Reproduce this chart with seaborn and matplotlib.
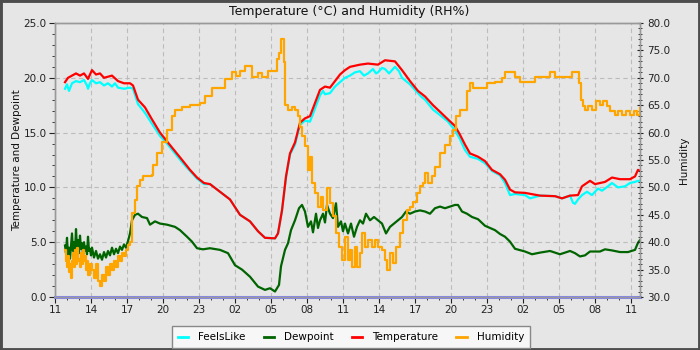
import matplotlib
matplotlib.use("Agg")
import matplotlib.pyplot as plt
import seaborn as sns
import pandas as pd
import numpy as np
from matplotlib.lines import Line2D
from matplotlib.patches import Rectangle
from matplotlib.ticker import MultipleLocator

# ---------------- data (minutes since 11:00 on day 1) ----------------
tick_labels = ["11", "14", "17", "20", "23", "02", "05", "08", "11",
               "14", "17", "20", "23", "02", "05", "08", "11"]

temp_min = [50, 65, 85, 105, 125, 145, 165, 185, 205, 225, 245, 265, 285, 315, 345, 375, 390,
            415, 450, 485, 525, 560, 600, 640, 675, 710, 745, 775, 825, 875, 925, 975, 1015,
            1050, 1100, 1115, 1135, 1155, 1175, 1200, 1225, 1250, 1275, 1300, 1325, 1350, 1375,
            1400, 1425, 1450, 1475, 1525, 1565, 1615, 1650, 1700, 1735, 1775, 1815, 1850, 1890,
            1925, 1965, 2000, 2025, 2050, 2075, 2115, 2150, 2185, 2225, 2250, 2275, 2300, 2350,
            2425, 2500, 2535, 2575, 2615, 2635, 2675, 2700, 2750, 2785, 2825, 2875, 2900, 2915, 2925]
temp_val = [19.6, 20.0, 20.2, 20.4, 20.2, 20.4, 19.9, 20.7, 20.3, 20.4, 20.0, 20.1, 20.2, 19.7, 19.5, 19.5, 19.3,
            18.0, 17.3, 16.2, 15.0, 14.2, 13.3, 12.4, 11.6, 10.9, 10.4, 10.3, 9.6, 8.9, 7.5, 6.9, 6.0,
            5.4, 5.35, 5.8, 7.9, 11.0, 13.1, 14.1, 15.9, 16.3, 16.5, 17.7, 18.9, 19.2, 19.1,
            19.7, 20.3, 20.7, 21.0, 21.2, 21.3, 21.2, 21.6, 21.5, 20.7, 19.7, 18.8, 18.3, 17.5,
            16.9, 16.2, 15.6, 14.8, 13.9, 13.1, 12.8, 12.4, 11.6, 11.2, 10.7, 9.8, 9.55, 9.5,
            9.25, 9.2, 9.0, 9.25, 9.3, 10.1, 10.6, 10.3, 10.5, 10.9, 10.75, 10.75, 11.0, 11.6, 11.5]

feels_min = [50, 60, 70, 85, 105, 125, 145, 160, 165, 175, 185, 205, 225, 245, 265, 285, 300, 315, 345,
             375, 390, 415, 450, 485, 525, 560, 600, 640, 675, 710, 745, 775, 825, 875, 925, 975, 1015,
             1050, 1100, 1115, 1135, 1155, 1175, 1200, 1225, 1250, 1275, 1300, 1325, 1340, 1350, 1375,
             1400, 1425, 1450, 1475, 1500, 1525, 1545, 1565, 1590, 1605, 1615, 1635, 1650, 1670, 1700,
             1720, 1735, 1775, 1815, 1830, 1850, 1890, 1925, 1965, 2000, 2025, 2050, 2075, 2115, 2150,
             2185, 2225, 2250, 2275, 2300, 2350, 2375, 2425, 2500, 2535, 2575, 2590, 2600, 2615, 2635,
             2660, 2685, 2715, 2735, 2765, 2785, 2815, 2850, 2875, 2900, 2915, 2925]
feels_val = [19.0, 19.4, 18.8, 19.5, 19.7, 19.6, 19.8, 19.3, 19.0, 19.5, 19.8, 19.5, 19.6, 19.3, 19.5, 19.2, 19.5, 19.1, 19.0,
             19.1, 19.0, 17.6, 16.8, 15.8, 14.7, 14.0, 13.1, 12.2, 11.5, 10.8, 10.3, 10.3, 9.6, 8.9, 7.5, 6.9, 6.0,
             5.4, 5.35, 5.8, 7.9, 10.9, 13.0, 13.9, 15.7, 16.1, 16.0, 17.2, 18.4, 18.8, 18.5, 18.6,
             19.2, 19.6, 20.0, 20.2, 20.5, 20.6, 20.2, 20.4, 20.8, 20.4, 20.5, 20.9, 20.8, 20.4, 21.0,
             20.6, 20.0, 19.4, 18.6, 18.3, 18.0, 17.1, 16.6, 16.0, 15.2, 14.4, 13.4, 12.8, 12.6, 12.2,
             11.5, 11.1, 10.4, 9.3, 9.4, 9.3, 9.0, 9.25, 9.2, 9.0, 9.25, 8.6, 8.5, 8.9, 9.3,
             9.6, 9.3, 9.9, 9.7, 10.1, 10.4, 10.0, 10.1, 10.4, 10.5, 10.6, 10.6]

dew_min = [50, 55, 60, 65, 70, 75, 80, 85, 90, 95, 100, 105, 110, 115, 120, 125, 130, 135, 140, 145,
           150, 155, 160, 165, 170, 175, 180, 185, 195, 205, 215, 225, 235, 245, 255, 265, 275, 285,
           295, 305, 315, 325, 335, 345, 355, 365, 375, 385, 400, 415, 435, 460, 475, 500, 525, 560,
           600, 625, 660, 685, 710, 740, 775, 825, 865, 900, 935, 975, 1015, 1050, 1075, 1100, 1120,
           1130, 1150, 1165, 1180, 1200, 1220, 1235, 1250, 1265, 1280, 1290, 1305, 1315, 1325, 1340,
           1350, 1360, 1375, 1390, 1405, 1415, 1430, 1440, 1450, 1465, 1480, 1495, 1510, 1525, 1540,
           1555, 1575, 1595, 1615, 1635, 1655, 1675, 1695, 1715, 1735, 1755, 1775, 1800, 1825, 1850,
           1875, 1900, 1925, 1950, 1975, 2000, 2015, 2035, 2060, 2085, 2115, 2150, 2175, 2200, 2225,
           2250, 2275, 2300, 2350, 2385, 2425, 2475, 2525, 2575, 2600, 2625, 2650, 2675, 2725, 2750,
           2785, 2825, 2865, 2900, 2915, 2925]
dew_val = [4.7, 4.0, 5.4, 3.8, 4.5, 3.5, 4.6, 5.8, 4.2, 5.0, 4.0, 6.2, 4.3, 5.2, 4.0, 5.6, 4.4, 4.9, 3.9, 5.0,
           4.2, 4.6, 3.9, 5.5, 4.2, 4.4, 3.8, 4.5, 3.6, 4.2, 3.5, 3.9, 3.4, 4.1, 3.6, 4.2, 3.8, 4.5,
           3.9, 4.4, 4.0, 4.6, 4.3, 4.8, 4.5, 5.1, 5.8, 7.0, 7.5, 7.6, 7.3, 7.2, 6.6, 6.9, 6.7, 6.6,
           6.4, 6.1, 5.5, 5.05, 4.45, 4.35, 4.45, 4.3, 4.0, 2.9, 2.5, 1.85, 0.95, 0.65, 0.8, 0.5, 1.1,
           2.8, 4.3, 4.9, 6.1, 7.0, 8.1, 8.4, 7.8, 6.4, 6.9, 5.9, 7.6, 6.3, 7.0, 7.6,
           6.8, 8.4, 7.6, 7.2, 8.55, 6.4, 6.9, 6.0, 6.7, 5.8, 6.7, 5.5, 6.4, 7.0, 6.7,
           7.6, 7.0, 7.3, 7.0, 6.7, 5.8, 6.4, 6.7, 7.0, 7.3, 7.8, 7.6, 7.8, 7.9, 7.8,
           7.6, 8.1, 8.25, 8.1, 8.25, 8.4, 8.4, 7.8, 7.6, 7.3, 7.1, 6.5, 6.3, 6.1, 5.75,
           5.5, 5.05, 4.4, 4.15, 3.9, 4.05, 4.2, 3.9, 4.2, 4.0, 3.7, 3.8, 4.15, 4.15, 4.35,
           4.25, 4.1, 4.1, 4.3, 4.95, 5.2]

hum_min = [50, 55, 60, 65, 70, 75, 80, 85, 90, 95, 100, 105, 110, 115, 120, 125, 130, 135, 140, 145,
           150, 155, 160, 165, 175, 185, 195, 205, 215, 225, 235, 245, 255, 265, 275, 285, 295, 305,
           315, 325, 335, 345, 355, 365, 375, 385, 400, 410, 425, 440, 485, 490, 510, 535, 560, 585,
           600, 635, 675, 725, 750, 785, 850, 885, 905, 925, 950, 985, 1015, 1035, 1065, 1100, 1110,
           1120, 1130, 1140, 1145, 1150, 1165, 1185, 1200, 1215, 1225, 1235, 1250, 1265, 1275, 1285,
           1300, 1315, 1330, 1340, 1360, 1375, 1390, 1405, 1420, 1435, 1450, 1465, 1475, 1485, 1500,
           1510, 1525, 1535, 1550, 1565, 1585, 1600, 1615, 1635, 1650, 1660, 1675, 1690, 1705, 1725,
           1740, 1760, 1775, 1790, 1810, 1825, 1840, 1850, 1865, 1885, 1900, 1925, 1950, 1975, 1990,
           2005, 2025, 2045, 2060, 2075, 2090, 2125, 2160, 2200, 2225, 2235, 2250, 2285, 2300, 2325,
           2385, 2400, 2460, 2475, 2500, 2575, 2585, 2610, 2620, 2630, 2640, 2650, 2665, 2685, 2705,
           2725, 2740, 2760, 2775, 2800, 2815, 2835, 2855, 2875, 2895, 2910, 2925]
hum_val = [38.5, 36.5, 35.5, 37.5, 34.5, 36.0, 33.5, 36.5, 38.0, 35.5, 38.5, 36.0, 39.0, 36.5, 37.0, 35.5, 38.0, 36.0, 38.5, 36.5,
           37.5, 35.0, 36.5, 34.0, 36.0, 35.0, 33.5, 36.0, 33.0, 32.0, 34.0, 33.0, 35.5, 34.0, 36.0, 35.0, 36.5, 35.5,
           37.5, 36.5, 38.0, 37.5, 38.5, 39.5, 40.0, 45.3, 47.7, 50.2, 51.4, 52.0, 52.3, 54.1, 56.3, 58.2, 60.5, 63.0,
           64.2, 64.7, 65.1, 65.4, 66.6, 68.1, 69.8, 71.0, 70.3, 71.2, 72.1, 70.2, 70.9, 70.2, 71.2, 71.2, 73.4,
           74.6, 77.0, 77.1, 72.8, 65.1, 64.2, 64.7, 64.2, 63.0, 61.1, 59.3, 57.5, 53.2, 55.6, 50.8,
           49.0, 46.5, 48.3, 45.9, 49.9, 47.2, 44.7, 41.7, 39.2, 36.8, 41.0, 36.8, 38.6, 35.5, 39.2,
           35.5, 38.0, 41.6, 39.2, 40.4, 39.2, 40.4, 39.2, 38.6, 36.8, 34.9, 38.0, 36.2, 39.2, 41.7,
           44.1, 45.9, 46.5, 47.4, 48.9, 50.2, 50.8, 52.6, 50.8, 52.0, 53.8, 56.3, 57.8, 59.3, 60.5,
           63.0, 64.2, 64.2, 67.5, 69.1, 68.2, 68.2, 69.1, 69.2, 69.2, 70.0, 71.0, 71.0, 70.2, 69.2,
           69.2, 70.2, 70.2, 71.1, 70.2, 70.2, 71.1, 71.1, 69.1, 66.0, 64.8, 64.2, 64.9, 64.2, 65.7,
           65.1, 65.7, 64.8, 63.9, 63.3, 63.9, 63.2, 63.9, 63.3, 63.9, 63.2, 64.5]

# ---------------- styling ----------------
plt.rcParams["font.family"] = ["DejaVu Sans"]
BG = "#e6e6e6"

def frame(mins, vals):
    return pd.DataFrame({"hours": np.asarray(mins) / 60.0, "value": vals})

fig = plt.figure(figsize=(7, 3.5), dpi=100, facecolor=BG)
ax = fig.add_axes([55 / 700, 53 / 350, 585 / 700, 274 / 350])
ax.set_facecolor(BG)
ax2 = ax.twinx()
ax2.set_position(ax.get_position())
ax2.patch.set_visible(False)

series = [
    ("FeelsLike", frame(feels_min, feels_val), "#00ffff", ax, "default"),
    ("Dewpoint", frame(dew_min, dew_val), "#006400", ax, "default"),
    ("Temperature", frame(temp_min, temp_val), "#ff0000", ax, "default"),
    ("Humidity", frame(hum_min, hum_val), "#ffa500", ax2, "steps-post"),
]
for name, df, col, a, ds in series:
    sns.lineplot(data=df, x="hours", y="value", ax=a, color=col, linewidth=1.6,
                 estimator=None, sort=False, drawstyle=ds, legend=False)

ax.axhline(0, color="#8484ee", linewidth=2.2, clip_on=False, zorder=5)

ax.set_xlim(0, 2925 / 60)
ax.set_ylim(0, 25)
ax2.set_ylim(30, 80)

ax.set_xticks(np.arange(0, 49, 3))
ax.set_xticklabels(tick_labels)
ax.xaxis.set_minor_locator(MultipleLocator(1))
ax.yaxis.set_major_locator(MultipleLocator(5))
ax.yaxis.set_minor_locator(MultipleLocator(1))
ax.yaxis.set_major_formatter(matplotlib.ticker.FormatStrFormatter("%.1f"))
ax2.yaxis.set_major_locator(MultipleLocator(5))
ax2.yaxis.set_minor_locator(MultipleLocator(1))
ax2.yaxis.set_major_formatter(matplotlib.ticker.FormatStrFormatter("%.1f"))

ax.grid(True, which="major", linestyle=(0, (4, 3)), color="#bcbcbc", linewidth=0.8)
ax.set_axisbelow(True)

for a in (ax, ax2):
    for s in a.spines.values():
        s.set_color("#999999")
        s.set_linewidth(1.0)

ax.tick_params(axis="both", which="major", labelsize=7.5, length=4, color="#222222",
               labelcolor="#222222", pad=2)
ax.tick_params(axis="both", which="minor", length=2.5, color="#222222")
ax2.tick_params(axis="y", which="major", labelsize=7.5, length=4, direction="inout",
                color="#222222", labelcolor="#222222", pad=3)
ax2.tick_params(axis="y", which="minor", length=3, direction="inout", color="#222222")

ax.set_xlabel("")
ax.set_ylabel("Temperature and Dewpoint", fontsize=7.5, color="#111111")
ax.yaxis.set_label_coords(-0.056, 0.5)
ax2.set_ylabel("Humidity", fontsize=7.5, color="#111111", rotation=90)
ax2.yaxis.set_label_coords(1.066, 0.5)

fig.text(349 / 700, 1 - 11 / 350, "Temperature (°C) and Humidity (RH%)",
         ha="center", va="center", fontsize=9, color="#111111")

handles = [Line2D([0], [0], color=c, linewidth=2) for _, _, c, _, _ in series]
labels = [n for n, _, _, _, _ in series]
leg = fig.legend(handles, labels, loc="lower center", bbox_to_anchor=(351 / 700, 0.006),
                 ncol=4, fontsize=7.5, frameon=True, fancybox=False, framealpha=1,
                 handlelength=1.0, handletextpad=1.0, columnspacing=1.7,
                 borderpad=0.55, borderaxespad=0)
leg.get_frame().set_facecolor("#f7f7f7")
leg.get_frame().set_edgecolor("#888888")
leg.get_frame().set_linewidth(1.0)

fig.add_artist(Rectangle((0, 0), 1, 1, transform=fig.transFigure, fill=False,
                         edgecolor="#4d4d4d", linewidth=3.5))

fig.savefig("out.png", dpi=100, facecolor=BG)
